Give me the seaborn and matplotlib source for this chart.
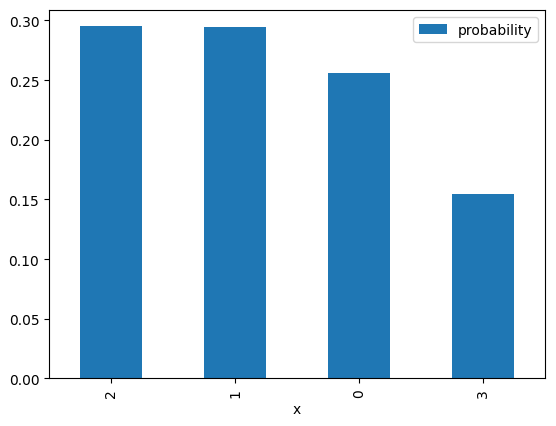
import seaborn as sns
import pandas as pd
import matplotlib.pyplot as plt

# values (sorted descending, as in value_counts)
x_labels = ["2", "1", "0", "3"]
probability = [0.2953, 0.2944, 0.2558, 0.1545]

df = pd.DataFrame({"x": x_labels, "probability": probability})

fig = plt.figure(figsize=(5.56, 4.27), dpi=100)
ax = fig.add_axes([49 / 556, (427 - 379.3) / 427, 496 / 556, 368.3 / 427])

sns.barplot(data=df, x="x", y="probability", order=x_labels, color="#1f77b4",
            saturation=1, width=0.5, linewidth=0, label="probability", ax=ax)

ax.set_xlim(-0.5, 3.5)
ax.set_ylim(0, max(probability) * 1.0455)
ax.set_ylabel("")
ax.set_xlabel("x")
ax.tick_params(axis="x", labelrotation=90)
ax.legend(loc="upper right")

fig.savefig("out.png", dpi=100)
